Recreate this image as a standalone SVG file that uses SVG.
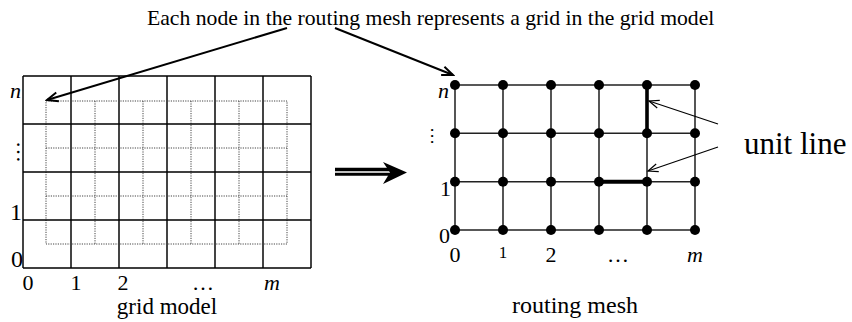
<svg xmlns="http://www.w3.org/2000/svg" width="852" height="322" viewBox="0 0 852 322">
<style>
text{font-family:"Liberation Serif","Times New Roman",serif;fill:#000}
.it{font-style:italic}
.hl{stroke:#000;stroke-width:1.5;fill:none}
.vl{stroke:#444;stroke-width:2;fill:none}
.dot{stroke:#444;stroke-width:1;stroke-dasharray:1.2 1.2;fill:none}
.mh{stroke:#222;stroke-width:1.5}
.mv{stroke:#444;stroke-width:1.8}
.nd{fill:#000}
.arr{stroke:#000;stroke-width:2;fill:none}
.arr2{stroke:#000;stroke-width:1.2;fill:none}
</style>
<defs>
<marker id="ah" viewBox="-12 -7 14 14" refX="0" refY="0" markerWidth="14" markerHeight="14" markerUnits="userSpaceOnUse" orient="auto">
<path d="M-11,-4.5 L0,0 L-11,4.5" fill="none" stroke="#000" stroke-width="2"/>
</marker>
<marker id="ah2" viewBox="-12 -7 14 14" refX="0" refY="0" markerWidth="14" markerHeight="14" markerUnits="userSpaceOnUse" orient="auto">
<path d="M-10,-4 L0,0 L-10,4" fill="none" stroke="#000" stroke-width="1.2"/>
</marker>
</defs>

<text x="147" y="25" font-size="21.7">Each node in the routing mesh represents a grid in the grid model</text>

<g id="grid-model">
<path class="dot" d="M46,101 H287 V244 H46 Z M46,148 H287 M46,196 H287 M95,101 V244 M143,101 V244 M191,101 V244 M239,101 V244"/>
<path class="vl" d="M23,76 V268 M71,76 V268 M119,76 V268 M167,76 V268 M215,76 V268 M263,76 V268 M311,76 V268"/>
<path class="hl" d="M23,76 H311 M23,124 H311 M23,172 H311 M23,220 H311 M23,268 H311"/>
<text x="10" y="98" font-size="22" class="it">n</text>
<text x="152" y="-17" font-size="22" transform="rotate(90 0 0)" text-anchor="middle">…</text>
<text x="10" y="220" font-size="24">1</text>
<text x="11" y="267" font-size="24">0</text>
<text x="28" y="290" font-size="22" text-anchor="middle">0</text>
<text x="76" y="290" font-size="22" text-anchor="middle">1</text>
<text x="123" y="290" font-size="22" text-anchor="middle">2</text>
<text x="203" y="290" font-size="22" text-anchor="middle">…</text>
<text x="272" y="290" font-size="22" text-anchor="middle" class="it">m</text>
<text x="167" y="314" font-size="23" text-anchor="middle">grid model</text>
</g>

<g id="transform-arrow">
<line x1="335" y1="169.5" x2="392" y2="169.5" stroke="#000" stroke-width="3.4"/>
<line x1="335" y1="174.3" x2="392" y2="174.3" stroke="#000" stroke-width="3"/>
<polygon points="383,162 407,172.5 383,184 390,172.5" fill="#000"/>
</g>

<g id="routing-mesh">
<path class="mv" d="M455,85 V230 M503,85 V230 M551,85 V230 M599,85 V230 M647,85 V230 M695,85 V230"/>
<path class="mh" d="M455,85 H695 M455,133.3 H695 M455,181.7 H695 M455,230 H695"/>
<line x1="647" y1="85" x2="647" y2="133.3" stroke="#000" stroke-width="3.6"/>
<line x1="599" y1="181.7" x2="647" y2="181.7" stroke="#000" stroke-width="4"/>
<g class="nd">
<circle cx="455" cy="85" r="5"/><circle cx="503" cy="85" r="5"/><circle cx="551" cy="85" r="5"/><circle cx="599" cy="85" r="5"/><circle cx="647" cy="85" r="5"/><circle cx="695" cy="85" r="5"/>
<circle cx="455" cy="133.3" r="5"/><circle cx="503" cy="133.3" r="5"/><circle cx="551" cy="133.3" r="5"/><circle cx="599" cy="133.3" r="5"/><circle cx="647" cy="133.3" r="5"/><circle cx="695" cy="133.3" r="5"/>
<circle cx="455" cy="181.7" r="5"/><circle cx="503" cy="181.7" r="5"/><circle cx="551" cy="181.7" r="5"/><circle cx="599" cy="181.7" r="5"/><circle cx="647" cy="181.7" r="5"/><circle cx="695" cy="181.7" r="5"/>
<circle cx="455" cy="230" r="5"/><circle cx="503" cy="230" r="5"/><circle cx="551" cy="230" r="5"/><circle cx="599" cy="230" r="5"/><circle cx="647" cy="230" r="5"/><circle cx="695" cy="230" r="5"/>
</g>
<text x="438" y="98" font-size="22" class="it">n</text>
<text x="136" y="-431" font-size="18" transform="rotate(90 0 0)" text-anchor="middle">…</text>
<text x="440" y="196" font-size="22">1</text>
<text x="439" y="243" font-size="22">0</text>
<text x="455" y="262" font-size="22" text-anchor="middle">0</text>
<text x="503" y="258" font-size="17" text-anchor="middle">1</text>
<text x="551" y="262" font-size="22" text-anchor="middle">2</text>
<text x="618" y="262" font-size="22" text-anchor="middle">…</text>
<text x="695" y="262" font-size="22" text-anchor="middle" class="it">m</text>
<text x="575" y="313" font-size="24" text-anchor="middle">routing mesh</text>
</g>

<g id="unit-line-label">
<text x="744" y="154" font-size="31">unit line</text>
</g>

<g id="connectors">
<line class="arr" x1="287" y1="28" x2="47" y2="100" marker-end="url(#ah)"/>
<line class="arr" x1="335" y1="28" x2="453" y2="75" marker-end="url(#ah)"/>
<line class="arr2" x1="718" y1="124" x2="649" y2="101" marker-end="url(#ah2)"/>
<line class="arr2" x1="718" y1="147" x2="648" y2="171" marker-end="url(#ah2)"/>
</g>
</svg>
